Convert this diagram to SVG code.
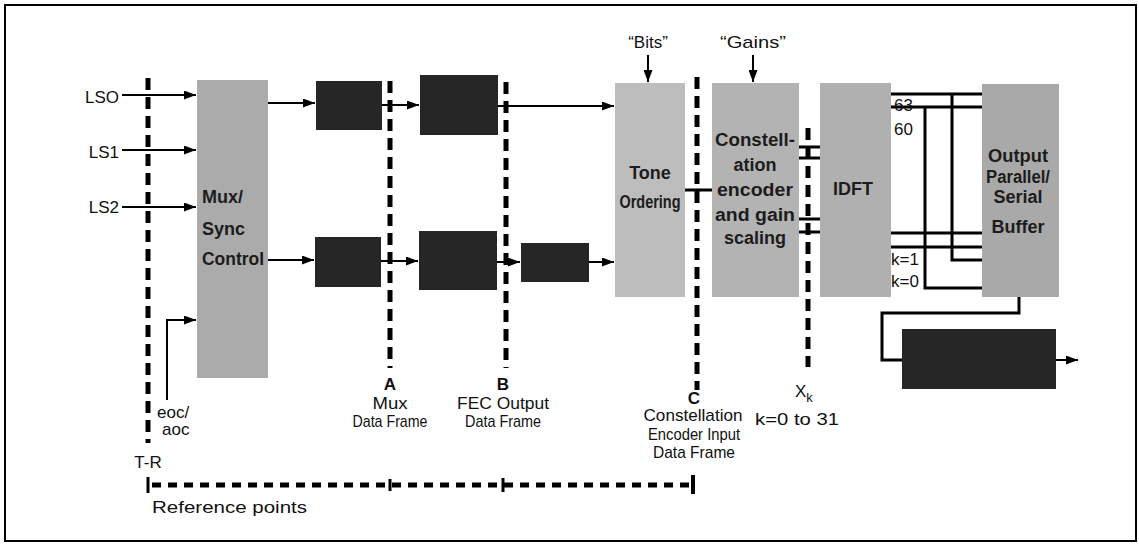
<svg xmlns="http://www.w3.org/2000/svg" width="1139" height="545" viewBox="0 0 1139 545">
<style>
.lbl{font-family:"Liberation Sans",Arial,sans-serif;font-size:17px;fill:#111}
.bold{font-weight:bold}
.bt{font-family:"Liberation Sans",Arial,sans-serif;font-weight:bold;font-size:18px;fill:#1c1c1c}
.ln{stroke:#000;stroke-width:2;fill:none}
.thk{stroke:#000;stroke-width:3;fill:none}
.dash{stroke:#000;stroke-width:5;fill:none;stroke-dasharray:12 7}
.hdash{stroke:#000;stroke-width:5;fill:none;stroke-dasharray:9 7}
.dark{fill:#262626}
</style>
<defs>
<marker id="arr" markerUnits="userSpaceOnUse" markerWidth="13" markerHeight="9" refX="12" refY="4.5" orient="auto">
<path d="M0,0 L12,4.5 L0,9 z" fill="#000"/>
</marker>
</defs>
<rect x="0" y="0" width="1139" height="545" fill="#fff"/>
<rect x="5" y="5" width="1131" height="536" fill="none" stroke="#000" stroke-width="2"/>

<g id="node-mux">
<rect x="197" y="80" width="71" height="298" fill="#ababab"/>
<text class="bt" x="202" y="203">Mux/</text>
<text class="bt" x="202" y="235">Sync</text>
<text class="bt" x="202" y="265" textLength="62" lengthAdjust="spacingAndGlyphs">Control</text>
</g>
<g id="node-d1"><rect class="dark" x="316" y="81" width="66" height="49"/></g>
<g id="node-d2"><rect class="dark" x="420" y="75" width="78" height="60"/></g>
<g id="node-d3"><rect class="dark" x="315" y="237" width="66" height="50"/></g>
<g id="node-d4"><rect class="dark" x="419" y="231" width="78" height="59"/></g>
<g id="node-d5"><rect class="dark" x="521" y="243" width="68" height="39"/></g>
<g id="node-tone">
<rect x="615" y="83" width="70" height="214" fill="#bdbdbd"/>
<text class="bt" x="650" y="179" text-anchor="middle">Tone</text>
<text class="bt" x="650" y="208" text-anchor="middle" textLength="61" lengthAdjust="spacingAndGlyphs">Ordering</text>
</g>
<g id="node-gain">
<rect x="712" y="83" width="87" height="214" fill="#b3b3b3"/>
<text class="bt" x="755" y="146" text-anchor="middle" textLength="80" lengthAdjust="spacingAndGlyphs">Constell-</text>
<text class="bt" x="755" y="171" text-anchor="middle">ation</text>
<text class="bt" x="755" y="196" text-anchor="middle" textLength="76" lengthAdjust="spacingAndGlyphs">encoder</text>
<text class="bt" x="755" y="221" text-anchor="middle" textLength="80" lengthAdjust="spacingAndGlyphs">and gain</text>
<text class="bt" x="755" y="244" text-anchor="middle">scaling</text>
</g>
<g id="node-idft">
<rect x="820" y="83" width="71" height="214" fill="#b0b0b0"/>
<text class="bt" x="853" y="195" text-anchor="middle" textLength="40" lengthAdjust="spacingAndGlyphs">IDFT</text>
</g>
<g id="node-out">
<rect x="982" y="84" width="77" height="213" fill="#a9a9a9"/>
<text class="bt" x="1018" y="162" text-anchor="middle" textLength="60" lengthAdjust="spacingAndGlyphs">Output</text>
<text class="bt" x="1018" y="183" text-anchor="middle" textLength="64" lengthAdjust="spacingAndGlyphs">Parallel/</text>
<text class="bt" x="1018" y="203" text-anchor="middle">Serial</text>
<text class="bt" x="1018" y="233" text-anchor="middle">Buffer</text>
</g>
<g id="node-d6"><rect class="dark" x="902" y="329" width="154" height="60"/></g>

<g id="refpoints">
<line class="dash" x1="148" y1="78" x2="148" y2="443"/>
<line class="dash" x1="390" y1="81" x2="390" y2="368"/>
<line class="dash" x1="506" y1="82" x2="506" y2="368"/>
<line class="dash" x1="697" y1="77" x2="697" y2="390"/>
<line class="dash" x1="808" y1="128" x2="808" y2="367"/>
<line class="hdash" x1="152" y1="485" x2="690" y2="485"/>
<line class="thk" x1="148" y1="477" x2="148" y2="493"/>
<line class="thk" x1="390" y1="479" x2="390" y2="491"/>
<line class="thk" x1="503" y1="478" x2="503" y2="492"/>
<line x1="693" y1="475" x2="693" y2="494" stroke="#000" stroke-width="4"/>
</g>

<g id="connectors">
<line class="ln" x1="122" y1="95" x2="196" y2="95" marker-end="url(#arr)"/>
<line class="ln" x1="122" y1="150" x2="196" y2="150" marker-end="url(#arr)"/>
<line class="ln" x1="122" y1="207" x2="196" y2="207" marker-end="url(#arr)"/>
<polyline class="ln" points="167,400 167,320 196,320" marker-end="url(#arr)"/>
<line class="ln" x1="268" y1="103" x2="315" y2="103" marker-end="url(#arr)"/>
<line class="ln" x1="382" y1="105" x2="419" y2="105" marker-end="url(#arr)"/>
<line class="ln" x1="498" y1="106" x2="614" y2="106" marker-end="url(#arr)"/>
<line class="ln" x1="268" y1="260" x2="314" y2="260" marker-end="url(#arr)"/>
<line class="ln" x1="381" y1="261" x2="418" y2="261" marker-end="url(#arr)"/>
<line class="ln" x1="497" y1="262" x2="520" y2="262" marker-end="url(#arr)"/>
<line class="ln" x1="589" y1="262" x2="614" y2="262" marker-end="url(#arr)"/>
<line class="ln" x1="648" y1="55" x2="648" y2="82" marker-end="url(#arr)"/>
<line class="ln" x1="753" y1="55" x2="753" y2="82" marker-end="url(#arr)"/>
<line class="thk" x1="685" y1="190" x2="712" y2="190"/>
<line class="thk" x1="799" y1="147" x2="820" y2="147"/>
<line class="thk" x1="799" y1="158" x2="820" y2="158"/>
<line class="thk" x1="799" y1="219" x2="820" y2="219"/>
<line class="thk" x1="799" y1="232" x2="820" y2="232"/>
<line class="thk" x1="891" y1="94" x2="982" y2="94"/>
<line class="thk" x1="891" y1="107" x2="982" y2="107"/>
<line class="thk" x1="891" y1="233" x2="982" y2="233"/>
<line class="thk" x1="891" y1="247" x2="982" y2="247"/>
<polyline class="thk" points="952,94 952,260 982,260"/>
<polyline class="thk" points="925,107 925,288 982,288"/>
<polyline class="thk" points="1019,297 1019,313 882,313 882,360 902,360"/>
<line class="ln" x1="1056" y1="360" x2="1078" y2="360" marker-end="url(#arr)"/>
</g>

<g id="labels">
<text class="lbl" x="119" y="103" text-anchor="end">LSO</text>
<text class="lbl" x="119" y="158" text-anchor="end">LS1</text>
<text class="lbl" x="119" y="213" text-anchor="end">LS2</text>
<text class="lbl" x="648" y="48" text-anchor="middle">“Bits”</text>
<text class="lbl" x="753" y="48" text-anchor="middle" textLength="66" lengthAdjust="spacingAndGlyphs">“Gains”</text>
<text class="lbl" x="894" y="111" font-size="16">63</text>
<text class="lbl" x="894" y="135" font-size="16">60</text>
<text class="lbl" x="891" y="265" font-size="16">k=1</text>
<text class="lbl" x="891" y="287" font-size="16">k=0</text>
<text class="lbl" x="157" y="418">eoc/</text>
<text class="lbl" x="162" y="435">aoc</text>
<text class="lbl" x="148" y="468" text-anchor="middle">T-R</text>
<text class="lbl" x="152" y="513" textLength="155" lengthAdjust="spacingAndGlyphs">Reference points</text>
<text class="lbl bold" x="390" y="390" text-anchor="middle">A</text>
<text class="lbl" x="390" y="409" text-anchor="middle" textLength="35" lengthAdjust="spacingAndGlyphs">Mux</text>
<text class="lbl" x="390" y="427" text-anchor="middle" textLength="75" lengthAdjust="spacingAndGlyphs">Data Frame</text>
<text class="lbl bold" x="503" y="390" text-anchor="middle">B</text>
<text class="lbl" x="503" y="409" text-anchor="middle" textLength="92" lengthAdjust="spacingAndGlyphs">FEC Output</text>
<text class="lbl" x="503" y="427" text-anchor="middle" textLength="76" lengthAdjust="spacingAndGlyphs">Data Frame</text>
<text class="lbl bold" x="694" y="404" text-anchor="middle">C</text>
<text class="lbl" x="693" y="421" text-anchor="middle" textLength="99" lengthAdjust="spacingAndGlyphs">Constellation</text>
<text class="lbl" x="694" y="440" text-anchor="middle" textLength="92" lengthAdjust="spacingAndGlyphs">Encoder Input</text>
<text class="lbl" x="694" y="458" text-anchor="middle" textLength="82" lengthAdjust="spacingAndGlyphs">Data Frame</text>
<text class="lbl" x="795" y="397">X<tspan font-size="13" dy="5">k</tspan></text>
<text class="lbl" x="797" y="425" text-anchor="middle" font-size="16" textLength="84" lengthAdjust="spacingAndGlyphs">k=0  to  31</text>
</g>
</svg>
